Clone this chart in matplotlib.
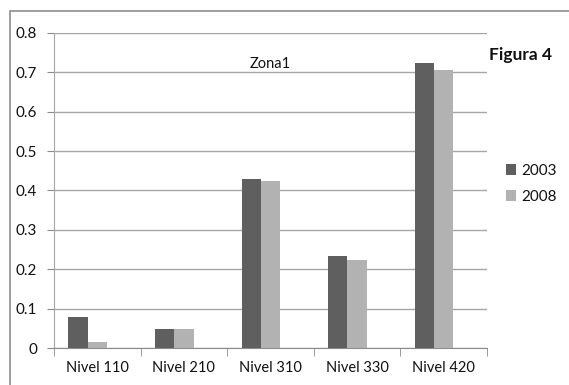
import matplotlib
matplotlib.use("Agg")
import matplotlib.pyplot as plt
from matplotlib.patches import Rectangle

categories = ["Nivel 110", "Nivel 210", "Nivel 310", "Nivel 330", "Nivel 420"]
series_names = ["2003", "2008"]
values_2003 = [0.080, 0.048, 0.430, 0.233, 0.725]
values_2008 = [0.015, 0.048, 0.423, 0.224, 0.706]
y_ticks = [0, 0.1, 0.2, 0.3, 0.4, 0.5, 0.6, 0.7, 0.8]
y_tick_labels = ["0", "0.1", "0.2", "0.3", "0.4", "0.5", "0.6", "0.7", "0.8"]

plt.rcParams["font.family"] = ["Lato", "DejaVu Sans"]

fig = plt.figure(figsize=(5.69, 3.85), dpi=100)
ax = fig.add_axes([54 / 569, 1 - 348 / 385, (487 - 54) / 569, (348 - 33) / 385])

# outer chart frame
fig.patches.append(Rectangle((10 / 569, -0.05), 1.0, 1 - 11 / 385 + 0.05,
                             transform=fig.transFigure, fill=False,
                             edgecolor="#8c8c8c", linewidth=1.2))

w = 0.223
x = list(range(len(categories)))
ax.bar([i - w for i in x], values_2003, width=w, color="#5f5f5f", label=series_names[0], zorder=3)
ax.bar([i for i in x], values_2008, width=w, color="#b2b2b2", label=series_names[1], zorder=3)

ax.set_xlim(-0.5, len(categories) - 0.5)
ax.set_ylim(0, 0.8)
ax.set_yticks(y_ticks)
ax.set_yticklabels(y_tick_labels, fontsize=11, color="#111111")
ax.set_xticks(x)
ax.set_xticklabels(categories, fontsize=10.5, color="#111111")
ax.tick_params(axis="x", length=0, pad=9)
ax.tick_params(axis="y", length=5, color="#8c8c8c", pad=7)

# category separators on the x axis
ax.set_xticks([i - 0.5 for i in range(len(categories) + 1)], minor=True)
ax.tick_params(axis="x", which="minor", length=6, color="#8c8c8c")

ax.grid(axis="y", color="#a6a6a6", linewidth=1.0, zorder=0)
for side in ["top", "right"]:
    ax.spines[side].set_visible(False)
ax.spines["left"].set_color("#a6a6a6")
ax.spines["bottom"].set_color("#8c8c8c")

ax.text(0.5, 0.9, "Zona1", transform=ax.transAxes, ha="center", va="center",
        fontsize=10.5, color="#111111")
fig.text(489 / 569, 1 - 55 / 385, "Figura 4", ha="left", va="center",
         fontsize=12.5, fontweight="bold", color="#111111")

ax.legend(loc="center left", bbox_to_anchor=(492 / 569, 1 - 184 / 385),
          bbox_transform=fig.transFigure, frameon=False, fontsize=11,
          handlelength=0.7, handleheight=0.7, handletextpad=0.3,
          labelspacing=0.8, labelcolor="#111111")

fig.savefig("out.png", dpi=100)
